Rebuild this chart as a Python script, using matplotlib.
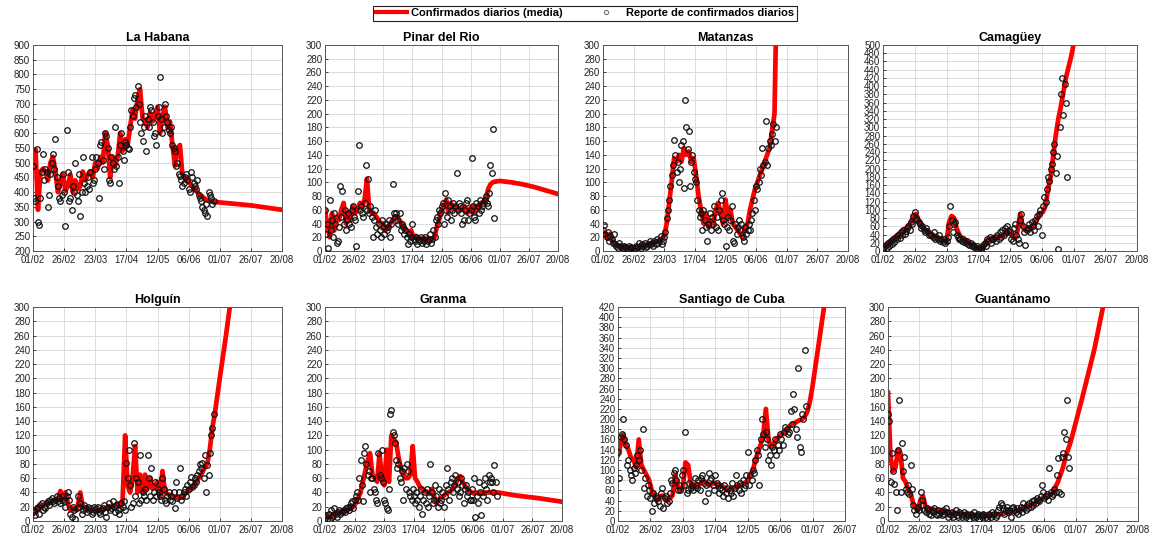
import numpy as np
import pandas as pd
import matplotlib
matplotlib.use("Agg")
import matplotlib.pyplot as plt
from matplotlib.lines import Line2D

plt.rcParams['font.family'] = ['Liberation Sans', 'DejaVu Sans']

start = pd.Timestamp('2021-02-01')
tick_labels = ['01/02', '26/02', '23/03', '17/04', '12/05', '06/06',
               '01/07', '26/07', '20/08']
tick_step = 25      # days between tick labels
mean_step = 2       # days between points of the mean curve

# ---------------- La Habana ----------------
obs_habana = [
    490, 380, 370, 545, 300, 290, 380, 470, 530, 440,
    480, 470, 350, 390, 460, 500, 530, 480, 580, 450,
    420, 380, 370, 390, 460, 400, 285, 610, 470, 370,
    380, 340, 420, 400, 500, 390, 370, 460, 320, 400,
    520, 430, 400, 420, 450, 410, 470, 520, 430, 440,
    480, 520, 500, 380, 560, 570, 510, 480, 600, 590,
    550, 440, 430, 520, 500, 480, 620, 490, 520, 430,
    560, 600, 540, 510, 570, 560, 550, 545, 620, 680,
    660, 720, 730, 690, 760, 700, 640, 600, 575, 620,
    660, 540, 650, 620, 690, 680, 640, 590, 600, 560,
    660, 690, 790, 650, 600, 620, 700, 660, 640, 610,
    600, 620, 560, 550, 540, 490, 500, 460, 455, 440,
    420, 430, 450, 460, 440, 410, 400, 470, 450, 430,
    420, 410, 440, 390, 380, 370, 350, 340, 330, 360,
    320, 400, 390, 380, 360, 370]
mean_habana = [
    490, 545, 340, 470, 480, 470, 440, 500, 520, 470,
    400, 430, 460, 405, 420, 460, 400, 440, 410, 420,
    470, 440, 460, 470, 450, 500, 480, 520, 500, 600,
    560, 450, 520, 490, 520, 600, 540, 580, 560, 620,
    680, 650, 720, 750, 650, 640, 620, 670, 640, 660,
    690, 600, 660, 690, 620, 640, 560, 490, 550, 560,
    460, 450, 440, 430, 420, 410, 400, 390, 385, 378,
    372, 370, 368]
proj_days_habana = [146, 150, 175, 200]
proj_habana = [367, 365, 355, 340]

# ---------------- Pinar del Rio ----------------
obs_pinar = [
    60, 25, 40, 5, 75, 30, 45, 20, 55, 40,
    12, 15, 35, 95, 50, 88, 40, 60, 30, 45,
    55, 40, 35, 60, 65, 50, 45, 8, 87, 155,
    60, 65, 55, 50, 70, 125, 60, 105, 55, 65,
    50, 20, 45, 60, 35, 25, 40, 30, 20, 45,
    35, 25, 40, 30, 35, 45, 20, 40, 98, 55,
    50, 55, 45, 40, 55, 30, 40, 35, 25, 30,
    20, 10, 25, 15, 20, 40, 18, 15, 20, 10,
    18, 15, 20, 12, 18, 15, 20, 10, 15, 18,
    25, 12, 18, 30, 20, 45, 50, 40, 60, 55,
    65, 70, 40, 85, 60, 50, 75, 65, 45, 60,
    70, 55, 65, 113, 60, 70, 65, 55, 40, 45,
    60, 70, 75, 45, 55, 60, 135, 65, 50, 45,
    70, 65, 55, 75, 60, 65, 70, 75, 80, 70,
    65, 85, 125, 113, 178, 48]
mean_pinar = [
    58, 40, 20, 55, 30, 50, 45, 60, 70, 40,
    55, 45, 65, 55, 60, 70, 65, 75, 105, 60,
    55, 55, 50, 45, 40, 40, 30, 35, 40, 45,
    50, 50, 45, 40, 35, 30, 25, 30, 20, 22,
    18, 18, 17, 18, 18, 17, 18, 20, 35, 45,
    60, 65, 75, 55, 70, 62, 65, 60, 62, 60,
    65, 55, 60, 65, 55, 65, 62, 70, 72, 75,
    90, 97, 100]
proj_days_pinar = [146, 150, 160, 170, 180, 190, 200]
proj_pinar = [101, 102, 100, 97, 93, 88, 83]

# ---------------- Matanzas ----------------
obs_matanzas = [
    30, 38, 25, 20, 28, 15, 22, 18, 12, 25,
    10, 8, 5, 12, 8, 6, 4, 8, 6, 5,
    3, 8, 5, 6, 4, 2, 5, 8, 6, 12,
    7, 5, 10, 8, 12, 6, 8, 10, 15, 10,
    12, 8, 15, 10, 18, 12, 15, 22, 10, 14,
    20, 28, 48, 60, 75, 95, 110, 125, 162, 140,
    115, 130, 100, 120, 155, 160, 92, 220, 180, 148,
    175, 95, 130, 140, 115, 105, 100, 75, 60, 50,
    55, 30, 60, 45, 35, 15, 40, 55, 30, 50,
    40, 65, 35, 50, 30, 60, 75, 85, 45, 40,
    8, 35, 50, 30, 45, 65, 15, 12, 40, 25,
    35, 45, 30, 40, 20, 15, 35, 25, 30, 40,
    30, 45, 55, 75, 60, 95, 90, 100, 120, 110,
    150, 125, 130, 190, 125, 150, 160, 155, 170, 185,
    160, 180]
mean_matanzas = [
    28, 25, 18, 25, 15, 10, 8, 7, 6, 6,
    5, 5, 5, 5, 6, 6, 7, 8, 8, 10,
    10, 12, 14, 15, 18, 22, 40, 70, 100, 135,
    130, 140, 130, 150, 140, 145, 130, 135, 110, 80,
    60, 40, 55, 35, 45, 40, 60, 70, 55, 40,
    75, 50, 60, 40, 35, 30, 25, 20, 35, 40,
    60, 75, 90, 100, 110, 120, 130, 140, 150, 175,
    200]
proj_days_matanzas = [141, 142, 145]
proj_matanzas = [300, 400, 700]

# ---------------- Camagüey ----------------
obs_camaguey = [
    5, 10, 15, 8, 20, 12, 25, 18, 30, 22,
    35, 28, 40, 32, 45, 38, 50, 42, 48, 55,
    60, 50, 70, 65, 85, 95, 80, 75, 70, 65,
    55, 60, 50, 45, 55, 48, 40, 42, 38, 35,
    45, 30, 35, 28, 40, 25, 30, 22, 30, 20,
    25, 35, 60, 110, 75, 45, 65, 70, 40, 35,
    30, 28, 25, 30, 22, 20, 25, 18, 15, 20,
    12, 15, 10, 8, 12, 5, 8, 3, 10, 15,
    20, 12, 30, 25, 35, 20, 30, 28, 35, 25,
    40, 30, 45, 35, 50, 40, 55, 45, 60, 50,
    45, 30, 25, 55, 65, 40, 30, 20, 75, 90,
    60, 45, 15, 50, 55, 65, 45, 70, 60, 50,
    75, 85, 60, 90, 100, 40, 110, 130, 120, 150,
    180, 170, 200, 210, 240, 260, 190, 230, 5, 300,
    380, 420, 330, 405, 360, 180]
mean_camaguey = [
    10, 14, 20, 25, 30, 35, 40, 45, 50, 55,
    60, 70, 85, 90, 75, 62, 55, 50, 45, 40,
    38, 33, 30, 27, 24, 22, 70, 85, 80, 55,
    40, 32, 28, 24, 20, 15, 12, 9, 6, 8,
    15, 25, 30, 30, 32, 33, 35, 38, 40, 42,
    45, 35, 30, 50, 90, 60, 50, 55, 58, 60,
    70, 80, 90, 95, 110, 150, 180, 230, 280, 320,
    350, 385, 420]
proj_days_camaguey = [146, 148, 150, 152]
proj_camaguey = [445, 470, 500, 530]

# ---------------- Holguín ----------------
obs_holguin = [
    12, 15, 8, 18, 20, 10, 22, 25, 15, 20,
    18, 25, 28, 22, 30, 32, 28, 25, 30, 35,
    28, 32, 25, 30, 35, 28, 20, 35, 40, 30,
    10, 5, 20, 15, 3, 18, 35, 20, 25, 10,
    15, 22, 18, 12, 20, 15, 18, 10, 12, 20,
    15, 18, 20, 12, 10, 15, 18, 22, 12, 5,
    20, 25, 15, 18, 28, 20, 12, 22, 15, 10,
    18, 25, 20, 28, 15, 82, 60, 100, 50, 20,
    25, 110, 35, 60, 55, 25, 92, 30, 40, 35,
    45, 30, 92, 60, 35, 75, 30, 40, 55, 35,
    45, 40, 35, 30, 60, 45, 30, 25, 35, 40,
    30, 35, 28, 40, 18, 55, 32, 40, 75, 30,
    35, 40, 45, 35, 50, 45, 55, 62, 48, 50,
    60, 55, 65, 70, 80, 75, 82, 60, 93, 40,
    78, 65, 95, 120, 130, 150]
mean_holguin = [
    10, 15, 18, 20, 22, 24, 25, 26, 28, 30,
    30, 42, 30, 40, 25, 15, 18, 15, 22, 40,
    20, 18, 16, 15, 14, 14, 15, 15, 16, 18,
    18, 20, 20, 22, 25, 20, 30, 120, 50, 40,
    60, 105, 40, 65, 40, 65, 45, 60, 45, 50,
    55, 35, 70, 40, 38, 36, 35, 33, 32, 33,
    35, 38, 40, 45, 48, 52, 57, 62, 68, 75,
    80, 100, 130]
proj_days_holguin = [146, 150, 155, 160]
proj_holguin = [150, 200, 260, 325]

# ---------------- Granma ----------------
obs_granma = [
    5, 8, 3, 10, 2, 15, 5, 8, 18, 10,
    5, 12, 15, 10, 12, 14, 15, 12, 18, 20,
    15, 20, 25, 28, 18, 30, 35, 40, 30, 60,
    85, 50, 28, 95, 105, 80, 65, 70, 40, 60,
    60, 45, 40, 30, 25, 95, 65, 60, 100, 55,
    30, 25, 18, 15, 45, 150, 155, 125, 120, 110,
    85, 75, 80, 60, 55, 70, 30, 75, 45, 80,
    70, 40, 35, 30, 45, 35, 25, 40, 30, 20,
    35, 45, 10, 30, 40, 25, 45, 20, 35, 80,
    40, 25, 30, 50, 35, 20, 45, 25, 30, 40,
    20, 35, 50, 75, 45, 30, 55, 60, 40, 50,
    65, 45, 55, 35, 40, 60, 50, 25, 45, 50,
    35, 40, 30, 30, 45, 30, 60, 5, 35, 25,
    55, 40, 8, 35, 50, 60, 45, 30, 65, 55,
    60, 55, 40, 78, 55, 35]
mean_granma = [
    8, 6, 5, 8, 10, 12, 12, 13, 14, 15,
    16, 18, 20, 25, 32, 40, 55, 70, 85, 95,
    65, 60, 55, 95, 60, 50, 100, 55, 120, 115,
    110, 90, 75, 65, 60, 60, 65, 105, 60, 55,
    48, 45, 42, 40, 38, 45, 35, 25, 30, 32,
    35, 38, 40, 42, 45, 50, 60, 63, 55, 50,
    45, 42, 40, 38, 40, 38, 40, 38, 40, 40,
    40, 40, 40]
proj_days_granma = [146, 160, 180, 200]
proj_granma = [40, 36, 32, 27]

# ---------------- Santiago de Cuba ----------------
obs_santiago = [
    135, 85, 165, 170, 200, 160, 150, 110, 120, 100,
    90, 80, 105, 95, 110, 130, 120, 140, 100, 180,
    65, 85, 50, 70, 60, 45, 20, 55, 35, 50,
    45, 40, 30, 55, 65, 25, 45, 50, 35, 40,
    55, 80, 75, 95, 100, 80, 60, 70, 60, 90,
    100, 70, 175, 55, 60, 75, 65, 70, 60, 85,
    70, 65, 80, 60, 85, 90, 75, 40, 70, 55,
    95, 80, 85, 70, 60, 90, 75, 70, 55, 65,
    60, 50, 70, 55, 65, 45, 60, 55, 75, 50,
    65, 90, 70, 60, 75, 55, 80, 65, 70, 90,
    135, 70, 90, 80, 100, 95, 120, 140, 130, 70,
    160, 200, 170, 145, 175, 160, 120, 130, 110, 145,
    140, 160, 130, 150, 140, 170, 160, 150, 175, 185,
    180, 170, 175, 215, 190, 250, 220, 180, 165, 300,
    145, 135, 210, 200, 335, 225]
mean_santiago = [
    130, 150, 170, 150, 140, 125, 120, 105, 160, 110,
    100, 90, 80, 60, 50, 40, 45, 50, 45, 40,
    45, 50, 90, 70, 60, 65, 115, 110, 75, 65,
    70, 70, 75, 80, 75, 70, 72, 75, 72, 70,
    70, 65, 60, 62, 65, 65, 68, 70, 72, 75,
    80, 90, 100, 120, 135, 150, 170, 220, 160, 145,
    150, 160, 165, 170, 175, 180, 185, 190, 192, 195,
    198, 200, 205]
proj_days_santiago = [146, 148, 150, 152, 154, 156, 158, 160]
proj_santiago = [215, 235, 265, 300, 335, 370, 405, 440]

# ---------------- Guantánamo ----------------
obs_guantanamo = [
    150, 140, 55, 95, 70, 52, 40, 15, 100, 170,
    40, 110, 70, 90, 45, 40, 50, 38, 78, 45,
    22, 15, 10, 18, 20, 15, 40, 30, 22, 15,
    12, 18, 15, 10, 8, 15, 12, 18, 10, 8,
    15, 10, 12, 8, 15, 10, 18, 12, 5, 10,
    8, 12, 5, 10, 15, 8, 5, 12, 10, 5,
    8, 12, 5, 10, 8, 3, 10, 8, 5, 12,
    5, 8, 10, 3, 8, 5, 10, 8, 5, 3,
    8, 10, 5, 12, 8, 10, 5, 8, 15, 20,
    25, 22, 18, 10, 15, 20, 12, 15, 5, 18,
    20, 15, 12, 18, 10, 15, 20, 12, 25, 18,
    15, 22, 18, 25, 20, 28, 22, 30, 25, 32,
    30, 28, 35, 50, 40, 32, 35, 38, 30, 75,
    40, 35, 38, 45, 40, 65, 88, 40, 38, 90,
    95, 125, 115, 170, 90, 75]
mean_guantanamo = [
    180, 90, 70, 75, 100, 95, 60, 55, 45, 40,
    25, 18, 15, 30, 35, 20, 18, 17, 16, 15,
    15, 14, 14, 13, 13, 12, 12, 11, 11, 10,
    10, 10, 9, 9, 8, 8, 8, 8, 8, 8,
    8, 8, 9, 9, 10, 10, 10, 11, 12, 12,
    13, 14, 15, 16, 18, 20, 21, 22, 24, 26,
    28, 30, 32, 34, 35, 37, 40, 48, 55, 65,
    75, 90, 100]
proj_days_guantanamo = [146, 155, 165, 172, 175]
proj_guantanamo = [110, 170, 240, 300, 320]

provinces = ['La Habana', 'Pinar del Rio', 'Matanzas', 'Camagüey',
             'Holguín', 'Granma', 'Santiago de Cuba', 'Guantánamo']
observed = [obs_habana, obs_pinar, obs_matanzas, obs_camaguey,
            obs_holguin, obs_granma, obs_santiago, obs_guantanamo]
means = [mean_habana, mean_pinar, mean_matanzas, mean_camaguey,
         mean_holguin, mean_granma, mean_santiago, mean_guantanamo]
proj_days = [proj_days_habana, proj_days_pinar, proj_days_matanzas,
             proj_days_camaguey, proj_days_holguin, proj_days_granma,
             proj_days_santiago, proj_days_guantanamo]
projs = [proj_habana, proj_pinar, proj_matanzas, proj_camaguey,
         proj_holguin, proj_granma, proj_santiago, proj_guantanamo]
y_limits = [(200, 900), (0, 300), (0, 300), (0, 500),
            (0, 300), (0, 300), (0, 420), (0, 300)]
y_steps = [50, 20, 20, 20, 20, 20, 20, 20]
n_ticks = [9, 9, 9, 9, 9, 9, 8, 9]

# axes boxes in pixels: left, top, right, bottom
boxes = [(33, 45, 282, 251), (325, 45, 558, 251), (603, 45, 848, 251),
         (883, 45, 1137, 251), (33, 307, 282, 521), (325, 307, 562, 521),
         (618, 307, 845, 521), (888, 307, 1138, 521)]

W, H = 1154, 542
fig = plt.figure(figsize=(W / 100, H / 100), dpi=100)

for i, name in enumerate(provinces):
    l, t, r, b = boxes[i]
    ax = fig.add_axes([l / W, 1 - b / H, (r - l) / W, (b - t) / H])
    obs = observed[i]
    obs_dates = start + pd.to_timedelta(np.arange(len(obs)), unit='D')
    m_days = np.concatenate([np.arange(len(means[i])) * mean_step,
                             proj_days[i]])
    m_vals = np.concatenate([means[i], projs[i]])
    m_dates = start + pd.to_timedelta(m_days, unit='D')
    ax.plot(m_dates, m_vals, color='#ff0000', lw=3.4, zorder=2)
    ax.plot(obs_dates, obs, 'o', ms=4, mfc='none', mec='#111111',
            mew=0.9, zorder=3)

    nt = n_ticks[i]
    ticks = start + pd.to_timedelta(np.arange(nt) * tick_step, unit='D')
    ax.set_xticks(ticks)
    ax.set_xticklabels(tick_labels[:nt])
    ax.set_xlim(ticks[0], ticks[-1])
    y0, y1 = y_limits[i]
    ax.set_ylim(y0, y1)
    ax.set_yticks(np.arange(y0, y1 + 1, y_steps[i]))
    ax.grid(True, color='#dcdcdc', lw=0.7)
    ax.set_axisbelow(True)
    ax.tick_params(direction='in', length=2.5, width=0.6, labelsize=7,
                   colors='#222222', pad=2)
    ax.tick_params(axis='x', pad=3)
    for sp in ax.spines.values():
        sp.set_color('#555555')
        sp.set_linewidth(0.7)
    ax.set_title(name, fontsize=9, fontweight='bold', pad=3)

handles = [Line2D([], [], color='#ff0000', lw=3),
           Line2D([], [], ls='none', marker='o', ms=3, mfc='none',
                  mec='#777777', mew=0.8)]
labels = ['Confirmados diarios (media)', 'Reporte de confirmados diarios']
leg = fig.legend(handles, labels, loc='upper center', ncol=2,
                 bbox_to_anchor=(0.507, 1.0),
                 prop={'weight': 'bold', 'size': 8}, frameon=True,
                 fancybox=False, framealpha=1, edgecolor='#222222',
                 borderpad=0.25, handlelength=2.8, columnspacing=2.5,
                 handletextpad=0.4)
leg.get_frame().set_linewidth(0.8)

fig.savefig('out.png', dpi=100)
